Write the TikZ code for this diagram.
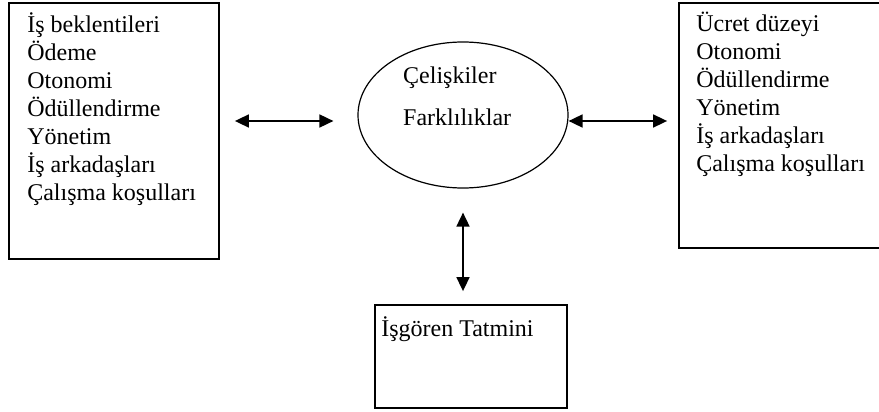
\documentclass[tikz,border=0pt]{standalone}
\usepackage{fontspec}
\setmainfont{Liberation Serif}
\usepackage{tikz}
\usetikzlibrary{shapes.geometric}
\usetikzlibrary{arrows.meta}

\tikzset{
  box/.style={draw, line width=1.8pt, rectangle, inner sep=0pt},
  oval/.style={draw, line width=1.2pt, ellipse, inner sep=0pt,
    minimum width=210pt, minimum height=146pt},
  list/.style={anchor=north west, inner sep=0pt, align=left,
    font=\fontsize{24}{28}\selectfont},
  twoway/.style={line width=1.7pt, {Triangle[length=14pt,width=13pt]}-{Triangle[length=14pt,width=13pt]}}
}

\begin{document}
\begin{tikzpicture}[x=1pt, y=-1pt]
  \useasboundingbox (0,0) rectangle (879,412);

  \node[box, minimum width=210pt, minimum height=256pt] (lbox) at (114,131) {};
  \node[list] (ltext) at ([shift={(19pt,-10pt)}]lbox.north west)
    {İş beklentileri\\Ödeme\\Otonomi\\Ödüllendirme\\Yönetim\\İş arkadaşları\\Çalışma koşulları};

  \node[oval] (ell) at (463,115) {};
  \node[list, font=\fontsize{24}{42}\selectfont] (etext) at ([shift={(-60pt,48.4pt)}]ell.center)
    {Çelişkiler\\Farklılıklar};

  \node[box, minimum width=205pt, minimum height=245pt] (rbox) at (781.5,125.5) {};
  \node[list] (rtext) at ([shift={(18pt,-9.5pt)}]rbox.north west)
    {Ücret düzeyi\\Otonomi\\Ödüllendirme\\Yönetim\\İş arkadaşları\\Çalışma koşulları};

  \node[box, minimum width=192pt, minimum height=103pt] (bbox) at (471,356.5) {};
  \node[list] (btext) at ([shift={(7pt,-12pt)}]bbox.north west) {İşgören Tatmini};

  \coordinate (lmid) at ([yshift=-6pt]ell.west);
  \coordinate (rmid) at ([yshift=-6pt]ell.east);
  \draw[twoway, shorten <=15pt, shorten >=24pt] (lbox.east |- lmid) -- (lmid);
  \draw[twoway, shorten >=11pt] (rmid) -- (rbox.west |- rmid);
  \draw[twoway, shorten <=24pt, shorten >=13pt] (ell.south) -- (ell.south |- bbox.north);
\end{tikzpicture}
\end{document}
